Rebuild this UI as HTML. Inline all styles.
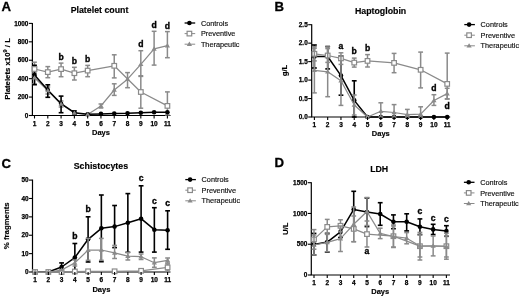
<!DOCTYPE html>
<html><head><meta charset="utf-8"><style>
html,body{margin:0;padding:0;background:#fff;}
body{width:520px;height:298px;overflow:hidden;}
svg{display:block;will-change:transform;}
text{font-family:"Liberation Sans",sans-serif;}
</style></head><body>
<svg width="520" height="298" viewBox="0 0 520 298">
<rect width="520" height="298" fill="#fff"/>
<line x1="32.40" y1="115.50" x2="32.40" y2="22.90" stroke="#000" stroke-width="1.2"/>
<line x1="31.80" y1="115.50" x2="170.50" y2="115.50" stroke="#000" stroke-width="1.2"/>
<line x1="34.50" y1="73.00" x2="34.50" y2="84.00" stroke="#8a8a8a" stroke-width="1.5"/>
<line x1="32.10" y1="73.00" x2="36.90" y2="73.00" stroke="#8a8a8a" stroke-width="1.5"/>
<line x1="32.10" y1="84.00" x2="36.90" y2="84.00" stroke="#8a8a8a" stroke-width="1.5"/>
<line x1="47.79" y1="87.00" x2="47.79" y2="94.00" stroke="#8a8a8a" stroke-width="1.5"/>
<line x1="45.39" y1="87.00" x2="50.19" y2="87.00" stroke="#8a8a8a" stroke-width="1.5"/>
<line x1="45.39" y1="94.00" x2="50.19" y2="94.00" stroke="#8a8a8a" stroke-width="1.5"/>
<line x1="61.08" y1="101.00" x2="61.08" y2="107.00" stroke="#8a8a8a" stroke-width="1.5"/>
<line x1="58.68" y1="101.00" x2="63.48" y2="101.00" stroke="#8a8a8a" stroke-width="1.5"/>
<line x1="58.68" y1="107.00" x2="63.48" y2="107.00" stroke="#8a8a8a" stroke-width="1.5"/>
<line x1="100.95" y1="104.00" x2="100.95" y2="108.00" stroke="#8a8a8a" stroke-width="1.5"/>
<line x1="98.55" y1="104.00" x2="103.35" y2="104.00" stroke="#8a8a8a" stroke-width="1.5"/>
<line x1="98.55" y1="108.00" x2="103.35" y2="108.00" stroke="#8a8a8a" stroke-width="1.5"/>
<line x1="114.24" y1="83.80" x2="114.24" y2="95.40" stroke="#8a8a8a" stroke-width="1.5"/>
<line x1="111.84" y1="83.80" x2="116.64" y2="83.80" stroke="#8a8a8a" stroke-width="1.5"/>
<line x1="111.84" y1="95.40" x2="116.64" y2="95.40" stroke="#8a8a8a" stroke-width="1.5"/>
<line x1="127.53" y1="72.60" x2="127.53" y2="87.70" stroke="#8a8a8a" stroke-width="1.5"/>
<line x1="125.13" y1="72.60" x2="129.93" y2="72.60" stroke="#8a8a8a" stroke-width="1.5"/>
<line x1="125.13" y1="87.70" x2="129.93" y2="87.70" stroke="#8a8a8a" stroke-width="1.5"/>
<line x1="140.82" y1="50.70" x2="140.82" y2="76.40" stroke="#8a8a8a" stroke-width="1.5"/>
<line x1="138.42" y1="50.70" x2="143.22" y2="50.70" stroke="#8a8a8a" stroke-width="1.5"/>
<line x1="138.42" y1="76.40" x2="143.22" y2="76.40" stroke="#8a8a8a" stroke-width="1.5"/>
<line x1="154.11" y1="31.30" x2="154.11" y2="65.10" stroke="#8a8a8a" stroke-width="1.5"/>
<line x1="151.71" y1="31.30" x2="156.51" y2="31.30" stroke="#8a8a8a" stroke-width="1.5"/>
<line x1="151.71" y1="65.10" x2="156.51" y2="65.10" stroke="#8a8a8a" stroke-width="1.5"/>
<line x1="167.40" y1="31.60" x2="167.40" y2="57.70" stroke="#8a8a8a" stroke-width="1.5"/>
<line x1="165.00" y1="31.60" x2="169.80" y2="31.60" stroke="#8a8a8a" stroke-width="1.5"/>
<line x1="165.00" y1="57.70" x2="169.80" y2="57.70" stroke="#8a8a8a" stroke-width="1.5"/>
<polyline points="34.50,77.80 47.79,90.50 61.08,104.00 74.37,113.00 87.66,114.50 100.95,105.90 114.24,90.00 127.53,79.20 140.82,64.30 154.11,48.90 167.40,45.60" fill="none" stroke="#8a8a8a" stroke-width="1.25" stroke-linejoin="round"/>
<line x1="34.50" y1="62.20" x2="34.50" y2="75.80" stroke="#8a8a8a" stroke-width="1.5"/>
<line x1="32.10" y1="62.20" x2="36.90" y2="62.20" stroke="#8a8a8a" stroke-width="1.5"/>
<line x1="32.10" y1="75.80" x2="36.90" y2="75.80" stroke="#8a8a8a" stroke-width="1.5"/>
<line x1="47.79" y1="66.60" x2="47.79" y2="77.70" stroke="#8a8a8a" stroke-width="1.5"/>
<line x1="45.39" y1="66.60" x2="50.19" y2="66.60" stroke="#8a8a8a" stroke-width="1.5"/>
<line x1="45.39" y1="77.70" x2="50.19" y2="77.70" stroke="#8a8a8a" stroke-width="1.5"/>
<line x1="61.08" y1="63.10" x2="61.08" y2="76.70" stroke="#8a8a8a" stroke-width="1.5"/>
<line x1="58.68" y1="63.10" x2="63.48" y2="63.10" stroke="#8a8a8a" stroke-width="1.5"/>
<line x1="58.68" y1="76.70" x2="63.48" y2="76.70" stroke="#8a8a8a" stroke-width="1.5"/>
<line x1="74.37" y1="67.30" x2="74.37" y2="80.00" stroke="#8a8a8a" stroke-width="1.5"/>
<line x1="71.97" y1="67.30" x2="76.77" y2="67.30" stroke="#8a8a8a" stroke-width="1.5"/>
<line x1="71.97" y1="80.00" x2="76.77" y2="80.00" stroke="#8a8a8a" stroke-width="1.5"/>
<line x1="87.66" y1="65.40" x2="87.66" y2="76.70" stroke="#8a8a8a" stroke-width="1.5"/>
<line x1="85.26" y1="65.40" x2="90.06" y2="65.40" stroke="#8a8a8a" stroke-width="1.5"/>
<line x1="85.26" y1="76.70" x2="90.06" y2="76.70" stroke="#8a8a8a" stroke-width="1.5"/>
<line x1="114.24" y1="54.80" x2="114.24" y2="77.90" stroke="#8a8a8a" stroke-width="1.5"/>
<line x1="111.84" y1="54.80" x2="116.64" y2="54.80" stroke="#8a8a8a" stroke-width="1.5"/>
<line x1="111.84" y1="77.90" x2="116.64" y2="77.90" stroke="#8a8a8a" stroke-width="1.5"/>
<line x1="140.82" y1="75.80" x2="140.82" y2="108.20" stroke="#8a8a8a" stroke-width="1.5"/>
<line x1="138.42" y1="75.80" x2="143.22" y2="75.80" stroke="#8a8a8a" stroke-width="1.5"/>
<line x1="138.42" y1="108.20" x2="143.22" y2="108.20" stroke="#8a8a8a" stroke-width="1.5"/>
<line x1="167.40" y1="91.90" x2="167.40" y2="115.00" stroke="#8a8a8a" stroke-width="1.5"/>
<line x1="165.00" y1="91.90" x2="169.80" y2="91.90" stroke="#8a8a8a" stroke-width="1.5"/>
<line x1="165.00" y1="115.00" x2="169.80" y2="115.00" stroke="#8a8a8a" stroke-width="1.5"/>
<polyline points="34.50,69.00 47.79,72.10 61.08,69.10 74.37,73.20 87.66,70.60 114.24,65.80 140.82,92.00 167.40,105.90" fill="none" stroke="#8a8a8a" stroke-width="1.25" stroke-linejoin="round"/>
<line x1="34.50" y1="65.30" x2="34.50" y2="84.70" stroke="#000" stroke-width="1.6"/>
<line x1="32.10" y1="65.30" x2="36.90" y2="65.30" stroke="#000" stroke-width="1.6"/>
<line x1="32.10" y1="84.70" x2="36.90" y2="84.70" stroke="#000" stroke-width="1.6"/>
<line x1="47.79" y1="84.80" x2="47.79" y2="97.30" stroke="#000" stroke-width="1.6"/>
<line x1="45.39" y1="84.80" x2="50.19" y2="84.80" stroke="#000" stroke-width="1.6"/>
<line x1="45.39" y1="97.30" x2="50.19" y2="97.30" stroke="#000" stroke-width="1.6"/>
<line x1="61.08" y1="96.10" x2="61.08" y2="112.70" stroke="#000" stroke-width="1.6"/>
<line x1="58.68" y1="96.10" x2="63.48" y2="96.10" stroke="#000" stroke-width="1.6"/>
<line x1="58.68" y1="112.70" x2="63.48" y2="112.70" stroke="#000" stroke-width="1.6"/>
<line x1="74.37" y1="110.90" x2="74.37" y2="114.50" stroke="#000" stroke-width="1.6"/>
<line x1="71.97" y1="110.90" x2="76.77" y2="110.90" stroke="#000" stroke-width="1.6"/>
<line x1="71.97" y1="114.50" x2="76.77" y2="114.50" stroke="#000" stroke-width="1.6"/>
<polyline points="34.50,75.00 47.79,90.00 61.08,103.70 74.37,112.70 87.66,114.20 100.95,113.90 114.24,113.50 127.53,113.30 140.82,112.70 154.11,112.30 167.40,112.30" fill="none" stroke="#000" stroke-width="1.5" stroke-linejoin="round"/>
<circle cx="34.50" cy="75.00" r="2.3" fill="#000"/>
<circle cx="47.79" cy="90.00" r="2.3" fill="#000"/>
<circle cx="61.08" cy="103.70" r="2.3" fill="#000"/>
<circle cx="74.37" cy="112.70" r="2.3" fill="#000"/>
<circle cx="87.66" cy="114.20" r="2.3" fill="#000"/>
<circle cx="100.95" cy="113.90" r="2.3" fill="#000"/>
<circle cx="114.24" cy="113.50" r="2.3" fill="#000"/>
<circle cx="127.53" cy="113.30" r="2.3" fill="#000"/>
<circle cx="140.82" cy="112.70" r="2.3" fill="#000"/>
<circle cx="154.11" cy="112.30" r="2.3" fill="#000"/>
<circle cx="167.40" cy="112.30" r="2.3" fill="#000"/>
<rect x="32.20" y="66.70" width="4.6" height="4.6" fill="#fff" stroke="#8a8a8a" stroke-width="1.2"/>
<rect x="45.49" y="69.80" width="4.6" height="4.6" fill="#fff" stroke="#8a8a8a" stroke-width="1.2"/>
<rect x="58.78" y="66.80" width="4.6" height="4.6" fill="#fff" stroke="#8a8a8a" stroke-width="1.2"/>
<rect x="72.07" y="70.90" width="4.6" height="4.6" fill="#fff" stroke="#8a8a8a" stroke-width="1.2"/>
<rect x="85.36" y="68.30" width="4.6" height="4.6" fill="#fff" stroke="#8a8a8a" stroke-width="1.2"/>
<rect x="111.94" y="63.50" width="4.6" height="4.6" fill="#fff" stroke="#8a8a8a" stroke-width="1.2"/>
<rect x="138.52" y="89.70" width="4.6" height="4.6" fill="#fff" stroke="#8a8a8a" stroke-width="1.2"/>
<rect x="165.10" y="103.60" width="4.6" height="4.6" fill="#fff" stroke="#8a8a8a" stroke-width="1.2"/>
<polygon points="34.50,75.20 37.10,79.60 31.90,79.60" fill="#8a8a8a"/>
<polygon points="47.79,87.90 50.39,92.30 45.19,92.30" fill="#8a8a8a"/>
<polygon points="61.08,101.40 63.68,105.80 58.48,105.80" fill="#8a8a8a"/>
<polygon points="74.37,110.40 76.97,114.80 71.77,114.80" fill="#8a8a8a"/>
<polygon points="87.66,111.90 90.26,116.30 85.06,116.30" fill="#8a8a8a"/>
<polygon points="100.95,103.30 103.55,107.70 98.35,107.70" fill="#8a8a8a"/>
<polygon points="114.24,87.40 116.84,91.80 111.64,91.80" fill="#8a8a8a"/>
<polygon points="127.53,76.60 130.13,81.00 124.93,81.00" fill="#8a8a8a"/>
<polygon points="140.82,61.70 143.42,66.10 138.22,66.10" fill="#8a8a8a"/>
<polygon points="154.11,46.30 156.71,50.70 151.51,50.70" fill="#8a8a8a"/>
<polygon points="167.40,43.00 170.00,47.40 164.80,47.40" fill="#8a8a8a"/>
<line x1="28.90" y1="115.50" x2="32.40" y2="115.50" stroke="#000" stroke-width="1.1"/>
<text x="28.40" y="117.70" font-size="6.4" font-weight="bold" text-anchor="end" fill="#000" stroke="#000" stroke-width="0.25">0</text>
<line x1="28.90" y1="97.08" x2="32.40" y2="97.08" stroke="#000" stroke-width="1.1"/>
<text x="28.40" y="99.28" font-size="6.4" font-weight="bold" text-anchor="end" fill="#000" stroke="#000" stroke-width="0.25">200</text>
<line x1="28.90" y1="78.66" x2="32.40" y2="78.66" stroke="#000" stroke-width="1.1"/>
<text x="28.40" y="80.86" font-size="6.4" font-weight="bold" text-anchor="end" fill="#000" stroke="#000" stroke-width="0.25">400</text>
<line x1="28.90" y1="60.24" x2="32.40" y2="60.24" stroke="#000" stroke-width="1.1"/>
<text x="28.40" y="62.44" font-size="6.4" font-weight="bold" text-anchor="end" fill="#000" stroke="#000" stroke-width="0.25">600</text>
<line x1="28.90" y1="41.82" x2="32.40" y2="41.82" stroke="#000" stroke-width="1.1"/>
<text x="28.40" y="44.02" font-size="6.4" font-weight="bold" text-anchor="end" fill="#000" stroke="#000" stroke-width="0.25">800</text>
<line x1="28.90" y1="23.40" x2="32.40" y2="23.40" stroke="#000" stroke-width="1.1"/>
<text x="28.40" y="25.60" font-size="6.4" font-weight="bold" text-anchor="end" fill="#000" stroke="#000" stroke-width="0.25">1000</text>
<line x1="34.50" y1="115.50" x2="34.50" y2="118.50" stroke="#000" stroke-width="1.1"/>
<text x="34.50" y="125.80" font-size="6.5" font-weight="bold" text-anchor="middle" fill="#000" stroke="#000" stroke-width="0.25">1</text>
<line x1="47.79" y1="115.50" x2="47.79" y2="118.50" stroke="#000" stroke-width="1.1"/>
<text x="47.79" y="125.80" font-size="6.5" font-weight="bold" text-anchor="middle" fill="#000" stroke="#000" stroke-width="0.25">2</text>
<line x1="61.08" y1="115.50" x2="61.08" y2="118.50" stroke="#000" stroke-width="1.1"/>
<text x="61.08" y="125.80" font-size="6.5" font-weight="bold" text-anchor="middle" fill="#000" stroke="#000" stroke-width="0.25">3</text>
<line x1="74.37" y1="115.50" x2="74.37" y2="118.50" stroke="#000" stroke-width="1.1"/>
<text x="74.37" y="125.80" font-size="6.5" font-weight="bold" text-anchor="middle" fill="#000" stroke="#000" stroke-width="0.25">4</text>
<line x1="87.66" y1="115.50" x2="87.66" y2="118.50" stroke="#000" stroke-width="1.1"/>
<text x="87.66" y="125.80" font-size="6.5" font-weight="bold" text-anchor="middle" fill="#000" stroke="#000" stroke-width="0.25">5</text>
<line x1="100.95" y1="115.50" x2="100.95" y2="118.50" stroke="#000" stroke-width="1.1"/>
<text x="100.95" y="125.80" font-size="6.5" font-weight="bold" text-anchor="middle" fill="#000" stroke="#000" stroke-width="0.25">6</text>
<line x1="114.24" y1="115.50" x2="114.24" y2="118.50" stroke="#000" stroke-width="1.1"/>
<text x="114.24" y="125.80" font-size="6.5" font-weight="bold" text-anchor="middle" fill="#000" stroke="#000" stroke-width="0.25">7</text>
<line x1="127.53" y1="115.50" x2="127.53" y2="118.50" stroke="#000" stroke-width="1.1"/>
<text x="127.53" y="125.80" font-size="6.5" font-weight="bold" text-anchor="middle" fill="#000" stroke="#000" stroke-width="0.25">8</text>
<line x1="140.82" y1="115.50" x2="140.82" y2="118.50" stroke="#000" stroke-width="1.1"/>
<text x="140.82" y="125.80" font-size="6.5" font-weight="bold" text-anchor="middle" fill="#000" stroke="#000" stroke-width="0.25">9</text>
<line x1="154.11" y1="115.50" x2="154.11" y2="118.50" stroke="#000" stroke-width="1.1"/>
<text x="154.11" y="125.80" font-size="6.5" font-weight="bold" text-anchor="middle" fill="#000" stroke="#000" stroke-width="0.25">10</text>
<line x1="167.40" y1="115.50" x2="167.40" y2="118.50" stroke="#000" stroke-width="1.1"/>
<text x="167.40" y="125.80" font-size="6.5" font-weight="bold" text-anchor="middle" fill="#000" stroke="#000" stroke-width="0.25">11</text>
<text x="100.95" y="135.00" font-size="7.5" font-weight="bold" text-anchor="middle" fill="#000" stroke="#000" stroke-width="0.15">Days</text>
<text x="61.08" y="60.10" font-size="8.6" font-weight="bold" text-anchor="middle" fill="#000" stroke="#000" stroke-width="0.35">b</text>
<text x="74.37" y="63.80" font-size="8.6" font-weight="bold" text-anchor="middle" fill="#000" stroke="#000" stroke-width="0.35">b</text>
<text x="87.66" y="61.90" font-size="8.6" font-weight="bold" text-anchor="middle" fill="#000" stroke="#000" stroke-width="0.35">b</text>
<text x="140.82" y="47.40" font-size="8.6" font-weight="bold" text-anchor="middle" fill="#000" stroke="#000" stroke-width="0.35">d</text>
<text x="154.11" y="27.80" font-size="8.6" font-weight="bold" text-anchor="middle" fill="#000" stroke="#000" stroke-width="0.35">d</text>
<text x="167.40" y="28.60" font-size="8.6" font-weight="bold" text-anchor="middle" fill="#000" stroke="#000" stroke-width="0.35">d</text>
<text x="99.50" y="13.10" font-size="8.8" font-weight="bold" text-anchor="middle" fill="#000" stroke="#000" stroke-width="0.15">Platelet count</text>
<text x="1.50" y="10.80" font-size="13.2" font-weight="bold" text-anchor="start" fill="#000" stroke="#000" stroke-width="0.3">A</text>
<text transform="translate(10.00,68.90) rotate(-90)" font-size="7.8" font-weight="bold" text-anchor="middle" fill="#000" stroke="#000" stroke-width="0.15">Platelets x10<tspan font-size="5.6" dy="-3.2">9</tspan><tspan dy="3.2"> / L</tspan></text>
<line x1="184.60" y1="23.00" x2="195.20" y2="23.00" stroke="#000" stroke-width="1.3"/>
<circle cx="189.40" cy="23.00" r="2.3" fill="#000"/>
<text x="200.90" y="25.60" font-size="7.3" font-weight="normal" text-anchor="start" fill="#111" stroke="#111" stroke-width="0.15">Controls</text>
<line x1="184.60" y1="33.60" x2="195.20" y2="33.60" stroke="#8a8a8a" stroke-width="1.0"/>
<rect x="187.10" y="31.30" width="4.6" height="4.6" fill="#fff" stroke="#8a8a8a" stroke-width="1.2"/>
<text x="200.90" y="36.20" font-size="7.3" font-weight="normal" text-anchor="start" fill="#111" stroke="#111" stroke-width="0.15">Preventive</text>
<line x1="184.60" y1="44.20" x2="195.20" y2="44.20" stroke="#8a8a8a" stroke-width="1.0"/>
<polygon points="189.40,41.60 192.00,46.00 186.80,46.00" fill="#8a8a8a"/>
<text x="200.90" y="46.80" font-size="7.3" font-weight="normal" text-anchor="start" fill="#111" stroke="#111" stroke-width="0.15">Therapeutic</text>
<line x1="311.70" y1="117.00" x2="311.70" y2="24.20" stroke="#000" stroke-width="1.2"/>
<line x1="311.10" y1="117.00" x2="450.20" y2="117.00" stroke="#000" stroke-width="1.2"/>
<line x1="314.40" y1="45.00" x2="314.40" y2="68.00" stroke="#000" stroke-width="1.6"/>
<line x1="312.00" y1="45.00" x2="316.80" y2="45.00" stroke="#000" stroke-width="1.6"/>
<line x1="312.00" y1="68.00" x2="316.80" y2="68.00" stroke="#000" stroke-width="1.6"/>
<line x1="327.68" y1="46.50" x2="327.68" y2="68.90" stroke="#000" stroke-width="1.6"/>
<line x1="325.28" y1="46.50" x2="330.08" y2="46.50" stroke="#000" stroke-width="1.6"/>
<line x1="325.28" y1="68.90" x2="330.08" y2="68.90" stroke="#000" stroke-width="1.6"/>
<line x1="340.96" y1="56.00" x2="340.96" y2="95.20" stroke="#000" stroke-width="1.6"/>
<line x1="338.56" y1="56.00" x2="343.36" y2="56.00" stroke="#000" stroke-width="1.6"/>
<line x1="338.56" y1="95.20" x2="343.36" y2="95.20" stroke="#000" stroke-width="1.6"/>
<line x1="354.24" y1="80.80" x2="354.24" y2="117.00" stroke="#000" stroke-width="1.6"/>
<line x1="351.84" y1="80.80" x2="356.64" y2="80.80" stroke="#000" stroke-width="1.6"/>
<line x1="351.84" y1="117.00" x2="356.64" y2="117.00" stroke="#000" stroke-width="1.6"/>
<polyline points="314.40,56.50 327.68,56.50 340.96,75.60 354.24,100.40 367.52,117.00 380.80,117.00 394.08,117.00 407.36,117.00 420.64,117.00 433.92,117.00 447.20,117.00" fill="none" stroke="#000" stroke-width="1.5" stroke-linejoin="round"/>
<circle cx="314.40" cy="56.50" r="2.3" fill="#000"/>
<circle cx="327.68" cy="56.50" r="2.3" fill="#000"/>
<circle cx="340.96" cy="75.60" r="2.3" fill="#000"/>
<circle cx="354.24" cy="100.40" r="2.3" fill="#000"/>
<circle cx="367.52" cy="117.00" r="2.3" fill="#000"/>
<circle cx="380.80" cy="117.00" r="2.3" fill="#000"/>
<circle cx="394.08" cy="117.00" r="2.3" fill="#000"/>
<circle cx="407.36" cy="117.00" r="2.3" fill="#000"/>
<circle cx="420.64" cy="117.00" r="2.3" fill="#000"/>
<circle cx="433.92" cy="117.00" r="2.3" fill="#000"/>
<circle cx="447.20" cy="117.00" r="2.3" fill="#000"/>
<line x1="314.40" y1="46.70" x2="314.40" y2="60.90" stroke="#8a8a8a" stroke-width="1.5"/>
<line x1="312.00" y1="46.70" x2="316.80" y2="46.70" stroke="#8a8a8a" stroke-width="1.5"/>
<line x1="312.00" y1="60.90" x2="316.80" y2="60.90" stroke="#8a8a8a" stroke-width="1.5"/>
<line x1="327.68" y1="48.60" x2="327.68" y2="62.40" stroke="#8a8a8a" stroke-width="1.5"/>
<line x1="325.28" y1="48.60" x2="330.08" y2="48.60" stroke="#8a8a8a" stroke-width="1.5"/>
<line x1="325.28" y1="62.40" x2="330.08" y2="62.40" stroke="#8a8a8a" stroke-width="1.5"/>
<line x1="340.96" y1="52.80" x2="340.96" y2="64.40" stroke="#8a8a8a" stroke-width="1.5"/>
<line x1="338.56" y1="52.80" x2="343.36" y2="52.80" stroke="#8a8a8a" stroke-width="1.5"/>
<line x1="338.56" y1="64.40" x2="343.36" y2="64.40" stroke="#8a8a8a" stroke-width="1.5"/>
<line x1="354.24" y1="58.10" x2="354.24" y2="67.10" stroke="#8a8a8a" stroke-width="1.5"/>
<line x1="351.84" y1="58.10" x2="356.64" y2="58.10" stroke="#8a8a8a" stroke-width="1.5"/>
<line x1="351.84" y1="67.10" x2="356.64" y2="67.10" stroke="#8a8a8a" stroke-width="1.5"/>
<line x1="367.52" y1="54.60" x2="367.52" y2="67.00" stroke="#8a8a8a" stroke-width="1.5"/>
<line x1="365.12" y1="54.60" x2="369.92" y2="54.60" stroke="#8a8a8a" stroke-width="1.5"/>
<line x1="365.12" y1="67.00" x2="369.92" y2="67.00" stroke="#8a8a8a" stroke-width="1.5"/>
<line x1="394.08" y1="53.40" x2="394.08" y2="72.70" stroke="#8a8a8a" stroke-width="1.5"/>
<line x1="391.68" y1="53.40" x2="396.48" y2="53.40" stroke="#8a8a8a" stroke-width="1.5"/>
<line x1="391.68" y1="72.70" x2="396.48" y2="72.70" stroke="#8a8a8a" stroke-width="1.5"/>
<line x1="420.64" y1="52.10" x2="420.64" y2="87.90" stroke="#8a8a8a" stroke-width="1.5"/>
<line x1="418.24" y1="52.10" x2="423.04" y2="52.10" stroke="#8a8a8a" stroke-width="1.5"/>
<line x1="418.24" y1="87.90" x2="423.04" y2="87.90" stroke="#8a8a8a" stroke-width="1.5"/>
<line x1="447.20" y1="53.10" x2="447.20" y2="99.00" stroke="#8a8a8a" stroke-width="1.5"/>
<line x1="444.80" y1="53.10" x2="449.60" y2="53.10" stroke="#8a8a8a" stroke-width="1.5"/>
<line x1="444.80" y1="99.00" x2="449.60" y2="99.00" stroke="#8a8a8a" stroke-width="1.5"/>
<polyline points="314.40,53.80 327.68,55.50 340.96,58.40 354.24,62.60 367.52,60.90 394.08,62.90 420.64,69.80 447.20,83.90" fill="none" stroke="#8a8a8a" stroke-width="1.25" stroke-linejoin="round"/>
<rect x="312.10" y="51.50" width="4.6" height="4.6" fill="#fff" stroke="#8a8a8a" stroke-width="1.2"/>
<rect x="325.38" y="53.20" width="4.6" height="4.6" fill="#fff" stroke="#8a8a8a" stroke-width="1.2"/>
<rect x="338.66" y="56.10" width="4.6" height="4.6" fill="#fff" stroke="#8a8a8a" stroke-width="1.2"/>
<rect x="351.94" y="60.30" width="4.6" height="4.6" fill="#fff" stroke="#8a8a8a" stroke-width="1.2"/>
<rect x="365.22" y="58.60" width="4.6" height="4.6" fill="#fff" stroke="#8a8a8a" stroke-width="1.2"/>
<rect x="391.78" y="60.60" width="4.6" height="4.6" fill="#fff" stroke="#8a8a8a" stroke-width="1.2"/>
<rect x="418.34" y="67.50" width="4.6" height="4.6" fill="#fff" stroke="#8a8a8a" stroke-width="1.2"/>
<rect x="444.90" y="81.60" width="4.6" height="4.6" fill="#fff" stroke="#8a8a8a" stroke-width="1.2"/>
<line x1="314.40" y1="48.20" x2="314.40" y2="92.90" stroke="#8a8a8a" stroke-width="1.5"/>
<line x1="312.00" y1="48.20" x2="316.80" y2="48.20" stroke="#8a8a8a" stroke-width="1.5"/>
<line x1="312.00" y1="92.90" x2="316.80" y2="92.90" stroke="#8a8a8a" stroke-width="1.5"/>
<line x1="327.68" y1="46.90" x2="327.68" y2="96.70" stroke="#8a8a8a" stroke-width="1.5"/>
<line x1="325.28" y1="46.90" x2="330.08" y2="46.90" stroke="#8a8a8a" stroke-width="1.5"/>
<line x1="325.28" y1="96.70" x2="330.08" y2="96.70" stroke="#8a8a8a" stroke-width="1.5"/>
<line x1="340.96" y1="56.20" x2="340.96" y2="105.40" stroke="#8a8a8a" stroke-width="1.5"/>
<line x1="338.56" y1="56.20" x2="343.36" y2="56.20" stroke="#8a8a8a" stroke-width="1.5"/>
<line x1="338.56" y1="105.40" x2="343.36" y2="105.40" stroke="#8a8a8a" stroke-width="1.5"/>
<line x1="354.24" y1="95.00" x2="354.24" y2="115.00" stroke="#8a8a8a" stroke-width="1.5"/>
<line x1="351.84" y1="95.00" x2="356.64" y2="95.00" stroke="#8a8a8a" stroke-width="1.5"/>
<line x1="351.84" y1="115.00" x2="356.64" y2="115.00" stroke="#8a8a8a" stroke-width="1.5"/>
<line x1="380.80" y1="102.80" x2="380.80" y2="117.00" stroke="#8a8a8a" stroke-width="1.5"/>
<line x1="378.40" y1="102.80" x2="383.20" y2="102.80" stroke="#8a8a8a" stroke-width="1.5"/>
<line x1="378.40" y1="117.00" x2="383.20" y2="117.00" stroke="#8a8a8a" stroke-width="1.5"/>
<line x1="394.08" y1="104.60" x2="394.08" y2="117.00" stroke="#8a8a8a" stroke-width="1.5"/>
<line x1="391.68" y1="104.60" x2="396.48" y2="104.60" stroke="#8a8a8a" stroke-width="1.5"/>
<line x1="391.68" y1="117.00" x2="396.48" y2="117.00" stroke="#8a8a8a" stroke-width="1.5"/>
<line x1="407.36" y1="109.40" x2="407.36" y2="117.00" stroke="#8a8a8a" stroke-width="1.5"/>
<line x1="404.96" y1="109.40" x2="409.76" y2="109.40" stroke="#8a8a8a" stroke-width="1.5"/>
<line x1="404.96" y1="117.00" x2="409.76" y2="117.00" stroke="#8a8a8a" stroke-width="1.5"/>
<line x1="420.64" y1="106.80" x2="420.64" y2="117.00" stroke="#8a8a8a" stroke-width="1.5"/>
<line x1="418.24" y1="106.80" x2="423.04" y2="106.80" stroke="#8a8a8a" stroke-width="1.5"/>
<line x1="418.24" y1="117.00" x2="423.04" y2="117.00" stroke="#8a8a8a" stroke-width="1.5"/>
<line x1="433.92" y1="94.70" x2="433.92" y2="105.40" stroke="#8a8a8a" stroke-width="1.5"/>
<line x1="431.52" y1="94.70" x2="436.32" y2="94.70" stroke="#8a8a8a" stroke-width="1.5"/>
<line x1="431.52" y1="105.40" x2="436.32" y2="105.40" stroke="#8a8a8a" stroke-width="1.5"/>
<line x1="447.20" y1="88.30" x2="447.20" y2="98.90" stroke="#8a8a8a" stroke-width="1.5"/>
<line x1="444.80" y1="88.30" x2="449.60" y2="88.30" stroke="#8a8a8a" stroke-width="1.5"/>
<line x1="444.80" y1="98.90" x2="449.60" y2="98.90" stroke="#8a8a8a" stroke-width="1.5"/>
<polyline points="314.40,70.30 327.68,71.80 340.96,80.80 354.24,105.00 367.52,117.00 380.80,111.30 394.08,112.50 407.36,114.60 420.64,114.10 433.92,100.50 447.20,93.60" fill="none" stroke="#8a8a8a" stroke-width="1.25" stroke-linejoin="round"/>
<polygon points="314.40,67.70 317.00,72.10 311.80,72.10" fill="#8a8a8a"/>
<polygon points="327.68,69.20 330.28,73.60 325.08,73.60" fill="#8a8a8a"/>
<polygon points="340.96,78.20 343.56,82.60 338.36,82.60" fill="#8a8a8a"/>
<polygon points="354.24,102.40 356.84,106.80 351.64,106.80" fill="#8a8a8a"/>
<polygon points="367.52,114.40 370.12,118.80 364.92,118.80" fill="#8a8a8a"/>
<polygon points="380.80,108.70 383.40,113.10 378.20,113.10" fill="#8a8a8a"/>
<polygon points="394.08,109.90 396.68,114.30 391.48,114.30" fill="#8a8a8a"/>
<polygon points="407.36,112.00 409.96,116.40 404.76,116.40" fill="#8a8a8a"/>
<polygon points="420.64,111.50 423.24,115.90 418.04,115.90" fill="#8a8a8a"/>
<polygon points="433.92,97.90 436.52,102.30 431.32,102.30" fill="#8a8a8a"/>
<polygon points="447.20,91.00 449.80,95.40 444.60,95.40" fill="#8a8a8a"/>
<line x1="308.20" y1="117.00" x2="311.70" y2="117.00" stroke="#000" stroke-width="1.1"/>
<text x="307.70" y="119.20" font-size="6.4" font-weight="bold" text-anchor="end" fill="#000" stroke="#000" stroke-width="0.25">0.0</text>
<line x1="308.20" y1="98.54" x2="311.70" y2="98.54" stroke="#000" stroke-width="1.1"/>
<text x="307.70" y="100.74" font-size="6.4" font-weight="bold" text-anchor="end" fill="#000" stroke="#000" stroke-width="0.25">0.5</text>
<line x1="308.20" y1="80.08" x2="311.70" y2="80.08" stroke="#000" stroke-width="1.1"/>
<text x="307.70" y="82.28" font-size="6.4" font-weight="bold" text-anchor="end" fill="#000" stroke="#000" stroke-width="0.25">1.0</text>
<line x1="308.20" y1="61.62" x2="311.70" y2="61.62" stroke="#000" stroke-width="1.1"/>
<text x="307.70" y="63.82" font-size="6.4" font-weight="bold" text-anchor="end" fill="#000" stroke="#000" stroke-width="0.25">1.5</text>
<line x1="308.20" y1="43.16" x2="311.70" y2="43.16" stroke="#000" stroke-width="1.1"/>
<text x="307.70" y="45.36" font-size="6.4" font-weight="bold" text-anchor="end" fill="#000" stroke="#000" stroke-width="0.25">2.0</text>
<line x1="308.20" y1="24.70" x2="311.70" y2="24.70" stroke="#000" stroke-width="1.1"/>
<text x="307.70" y="26.90" font-size="6.4" font-weight="bold" text-anchor="end" fill="#000" stroke="#000" stroke-width="0.25">2.5</text>
<line x1="314.40" y1="117.00" x2="314.40" y2="120.00" stroke="#000" stroke-width="1.1"/>
<text x="314.40" y="127.00" font-size="6.5" font-weight="bold" text-anchor="middle" fill="#000" stroke="#000" stroke-width="0.25">1</text>
<line x1="327.68" y1="117.00" x2="327.68" y2="120.00" stroke="#000" stroke-width="1.1"/>
<text x="327.68" y="127.00" font-size="6.5" font-weight="bold" text-anchor="middle" fill="#000" stroke="#000" stroke-width="0.25">2</text>
<line x1="340.96" y1="117.00" x2="340.96" y2="120.00" stroke="#000" stroke-width="1.1"/>
<text x="340.96" y="127.00" font-size="6.5" font-weight="bold" text-anchor="middle" fill="#000" stroke="#000" stroke-width="0.25">3</text>
<line x1="354.24" y1="117.00" x2="354.24" y2="120.00" stroke="#000" stroke-width="1.1"/>
<text x="354.24" y="127.00" font-size="6.5" font-weight="bold" text-anchor="middle" fill="#000" stroke="#000" stroke-width="0.25">4</text>
<line x1="367.52" y1="117.00" x2="367.52" y2="120.00" stroke="#000" stroke-width="1.1"/>
<text x="367.52" y="127.00" font-size="6.5" font-weight="bold" text-anchor="middle" fill="#000" stroke="#000" stroke-width="0.25">5</text>
<line x1="380.80" y1="117.00" x2="380.80" y2="120.00" stroke="#000" stroke-width="1.1"/>
<text x="380.80" y="127.00" font-size="6.5" font-weight="bold" text-anchor="middle" fill="#000" stroke="#000" stroke-width="0.25">6</text>
<line x1="394.08" y1="117.00" x2="394.08" y2="120.00" stroke="#000" stroke-width="1.1"/>
<text x="394.08" y="127.00" font-size="6.5" font-weight="bold" text-anchor="middle" fill="#000" stroke="#000" stroke-width="0.25">7</text>
<line x1="407.36" y1="117.00" x2="407.36" y2="120.00" stroke="#000" stroke-width="1.1"/>
<text x="407.36" y="127.00" font-size="6.5" font-weight="bold" text-anchor="middle" fill="#000" stroke="#000" stroke-width="0.25">8</text>
<line x1="420.64" y1="117.00" x2="420.64" y2="120.00" stroke="#000" stroke-width="1.1"/>
<text x="420.64" y="127.00" font-size="6.5" font-weight="bold" text-anchor="middle" fill="#000" stroke="#000" stroke-width="0.25">9</text>
<line x1="433.92" y1="117.00" x2="433.92" y2="120.00" stroke="#000" stroke-width="1.1"/>
<text x="433.92" y="127.00" font-size="6.5" font-weight="bold" text-anchor="middle" fill="#000" stroke="#000" stroke-width="0.25">10</text>
<line x1="447.20" y1="117.00" x2="447.20" y2="120.00" stroke="#000" stroke-width="1.1"/>
<text x="447.20" y="127.00" font-size="6.5" font-weight="bold" text-anchor="middle" fill="#000" stroke="#000" stroke-width="0.25">11</text>
<text x="380.80" y="136.30" font-size="7.5" font-weight="bold" text-anchor="middle" fill="#000" stroke="#000" stroke-width="0.15">Days</text>
<text x="340.96" y="48.90" font-size="8.6" font-weight="bold" text-anchor="middle" fill="#000" stroke="#000" stroke-width="0.35">a</text>
<text x="354.24" y="54.30" font-size="8.6" font-weight="bold" text-anchor="middle" fill="#000" stroke="#000" stroke-width="0.35">b</text>
<text x="367.52" y="51.30" font-size="8.6" font-weight="bold" text-anchor="middle" fill="#000" stroke="#000" stroke-width="0.35">b</text>
<text x="433.92" y="91.20" font-size="8.6" font-weight="bold" text-anchor="middle" fill="#000" stroke="#000" stroke-width="0.35">d</text>
<text x="447.20" y="109.20" font-size="8.6" font-weight="bold" text-anchor="middle" fill="#000" stroke="#000" stroke-width="0.35">d</text>
<text x="380.60" y="13.70" font-size="8.8" font-weight="bold" text-anchor="middle" fill="#000" stroke="#000" stroke-width="0.15">Haptoglobin</text>
<text x="274.50" y="11.00" font-size="13.2" font-weight="bold" text-anchor="start" fill="#000" stroke="#000" stroke-width="0.3">B</text>
<text transform="translate(287.30,70.50) rotate(-90)" font-size="7.8" font-weight="bold" text-anchor="middle" fill="#000" stroke="#000" stroke-width="0.15">g/L</text>
<line x1="464.30" y1="24.60" x2="474.90" y2="24.60" stroke="#000" stroke-width="1.3"/>
<circle cx="469.10" cy="24.60" r="2.3" fill="#000"/>
<text x="480.60" y="27.20" font-size="7.3" font-weight="normal" text-anchor="start" fill="#111" stroke="#111" stroke-width="0.15">Controls</text>
<line x1="464.30" y1="35.20" x2="474.90" y2="35.20" stroke="#8a8a8a" stroke-width="1.0"/>
<rect x="466.80" y="32.90" width="4.6" height="4.6" fill="#fff" stroke="#8a8a8a" stroke-width="1.2"/>
<text x="480.60" y="37.80" font-size="7.3" font-weight="normal" text-anchor="start" fill="#111" stroke="#111" stroke-width="0.15">Preventive</text>
<line x1="464.30" y1="45.80" x2="474.90" y2="45.80" stroke="#8a8a8a" stroke-width="1.0"/>
<polygon points="469.10,43.20 471.70,47.60 466.50,47.60" fill="#8a8a8a"/>
<text x="480.60" y="48.40" font-size="7.3" font-weight="normal" text-anchor="start" fill="#111" stroke="#111" stroke-width="0.15">Therapeutic</text>
<line x1="32.50" y1="272.00" x2="32.50" y2="179.60" stroke="#000" stroke-width="1.2"/>
<line x1="31.90" y1="272.00" x2="170.50" y2="272.00" stroke="#000" stroke-width="1.2"/>
<line x1="61.60" y1="262.90" x2="61.60" y2="271.00" stroke="#000" stroke-width="1.6"/>
<line x1="59.20" y1="262.90" x2="64.00" y2="262.90" stroke="#000" stroke-width="1.6"/>
<line x1="59.20" y1="271.00" x2="64.00" y2="271.00" stroke="#000" stroke-width="1.6"/>
<line x1="74.85" y1="243.50" x2="74.85" y2="271.70" stroke="#000" stroke-width="1.6"/>
<line x1="72.45" y1="243.50" x2="77.25" y2="243.50" stroke="#000" stroke-width="1.6"/>
<line x1="72.45" y1="271.70" x2="77.25" y2="271.70" stroke="#000" stroke-width="1.6"/>
<line x1="88.10" y1="216.80" x2="88.10" y2="262.00" stroke="#000" stroke-width="1.6"/>
<line x1="85.70" y1="216.80" x2="90.50" y2="216.80" stroke="#000" stroke-width="1.6"/>
<line x1="85.70" y1="262.00" x2="90.50" y2="262.00" stroke="#000" stroke-width="1.6"/>
<line x1="101.35" y1="195.00" x2="101.35" y2="261.70" stroke="#000" stroke-width="1.6"/>
<line x1="98.95" y1="195.00" x2="103.75" y2="195.00" stroke="#000" stroke-width="1.6"/>
<line x1="98.95" y1="261.70" x2="103.75" y2="261.70" stroke="#000" stroke-width="1.6"/>
<line x1="114.60" y1="205.50" x2="114.60" y2="247.60" stroke="#000" stroke-width="1.6"/>
<line x1="112.20" y1="205.50" x2="117.00" y2="205.50" stroke="#000" stroke-width="1.6"/>
<line x1="112.20" y1="247.60" x2="117.00" y2="247.60" stroke="#000" stroke-width="1.6"/>
<line x1="127.85" y1="193.60" x2="127.85" y2="252.30" stroke="#000" stroke-width="1.6"/>
<line x1="125.45" y1="193.60" x2="130.25" y2="193.60" stroke="#000" stroke-width="1.6"/>
<line x1="125.45" y1="252.30" x2="130.25" y2="252.30" stroke="#000" stroke-width="1.6"/>
<line x1="141.10" y1="185.80" x2="141.10" y2="252.10" stroke="#000" stroke-width="1.6"/>
<line x1="138.70" y1="185.80" x2="143.50" y2="185.80" stroke="#000" stroke-width="1.6"/>
<line x1="138.70" y1="252.10" x2="143.50" y2="252.10" stroke="#000" stroke-width="1.6"/>
<line x1="154.35" y1="207.70" x2="154.35" y2="252.10" stroke="#000" stroke-width="1.6"/>
<line x1="151.95" y1="207.70" x2="156.75" y2="207.70" stroke="#000" stroke-width="1.6"/>
<line x1="151.95" y1="252.10" x2="156.75" y2="252.10" stroke="#000" stroke-width="1.6"/>
<line x1="167.60" y1="210.80" x2="167.60" y2="249.30" stroke="#000" stroke-width="1.6"/>
<line x1="165.20" y1="210.80" x2="170.00" y2="210.80" stroke="#000" stroke-width="1.6"/>
<line x1="165.20" y1="249.30" x2="170.00" y2="249.30" stroke="#000" stroke-width="1.6"/>
<polyline points="35.10,272.00 48.35,272.00 61.60,267.00 74.85,257.60 88.10,239.30 101.35,228.30 114.60,226.60 127.85,222.80 141.10,218.70 154.35,229.70 167.60,230.20" fill="none" stroke="#000" stroke-width="1.5" stroke-linejoin="round"/>
<circle cx="35.10" cy="272.00" r="2.3" fill="#000"/>
<circle cx="48.35" cy="272.00" r="2.3" fill="#000"/>
<circle cx="61.60" cy="267.00" r="2.3" fill="#000"/>
<circle cx="74.85" cy="257.60" r="2.3" fill="#000"/>
<circle cx="88.10" cy="239.30" r="2.3" fill="#000"/>
<circle cx="101.35" cy="228.30" r="2.3" fill="#000"/>
<circle cx="114.60" cy="226.60" r="2.3" fill="#000"/>
<circle cx="127.85" cy="222.80" r="2.3" fill="#000"/>
<circle cx="141.10" cy="218.70" r="2.3" fill="#000"/>
<circle cx="154.35" cy="229.70" r="2.3" fill="#000"/>
<circle cx="167.60" cy="230.20" r="2.3" fill="#000"/>
<line x1="167.60" y1="264.00" x2="167.60" y2="271.00" stroke="#8a8a8a" stroke-width="1.5"/>
<line x1="165.20" y1="264.00" x2="170.00" y2="264.00" stroke="#8a8a8a" stroke-width="1.5"/>
<line x1="165.20" y1="271.00" x2="170.00" y2="271.00" stroke="#8a8a8a" stroke-width="1.5"/>
<polyline points="35.10,272.00 48.35,272.00 61.60,272.00 74.85,271.50 88.10,271.30 114.60,271.30 141.10,270.80 167.60,267.40" fill="none" stroke="#8a8a8a" stroke-width="1.25" stroke-linejoin="round"/>
<rect x="32.80" y="269.70" width="4.6" height="4.6" fill="#fff" stroke="#8a8a8a" stroke-width="1.2"/>
<rect x="46.05" y="269.70" width="4.6" height="4.6" fill="#fff" stroke="#8a8a8a" stroke-width="1.2"/>
<rect x="59.30" y="269.70" width="4.6" height="4.6" fill="#fff" stroke="#8a8a8a" stroke-width="1.2"/>
<rect x="72.55" y="269.20" width="4.6" height="4.6" fill="#fff" stroke="#8a8a8a" stroke-width="1.2"/>
<rect x="85.80" y="269.00" width="4.6" height="4.6" fill="#fff" stroke="#8a8a8a" stroke-width="1.2"/>
<rect x="112.30" y="269.00" width="4.6" height="4.6" fill="#fff" stroke="#8a8a8a" stroke-width="1.2"/>
<rect x="138.80" y="268.50" width="4.6" height="4.6" fill="#fff" stroke="#8a8a8a" stroke-width="1.2"/>
<rect x="165.30" y="265.10" width="4.6" height="4.6" fill="#fff" stroke="#8a8a8a" stroke-width="1.2"/>
<line x1="74.85" y1="260.00" x2="74.85" y2="266.00" stroke="#8a8a8a" stroke-width="1.5"/>
<line x1="72.45" y1="260.00" x2="77.25" y2="260.00" stroke="#8a8a8a" stroke-width="1.5"/>
<line x1="72.45" y1="266.00" x2="77.25" y2="266.00" stroke="#8a8a8a" stroke-width="1.5"/>
<line x1="88.10" y1="238.40" x2="88.10" y2="260.30" stroke="#8a8a8a" stroke-width="1.5"/>
<line x1="85.70" y1="238.40" x2="90.50" y2="238.40" stroke="#8a8a8a" stroke-width="1.5"/>
<line x1="85.70" y1="260.30" x2="90.50" y2="260.30" stroke="#8a8a8a" stroke-width="1.5"/>
<line x1="101.35" y1="238.40" x2="101.35" y2="260.30" stroke="#8a8a8a" stroke-width="1.5"/>
<line x1="98.95" y1="238.40" x2="103.75" y2="238.40" stroke="#8a8a8a" stroke-width="1.5"/>
<line x1="98.95" y1="260.30" x2="103.75" y2="260.30" stroke="#8a8a8a" stroke-width="1.5"/>
<line x1="114.60" y1="245.40" x2="114.60" y2="258.50" stroke="#8a8a8a" stroke-width="1.5"/>
<line x1="112.20" y1="245.40" x2="117.00" y2="245.40" stroke="#8a8a8a" stroke-width="1.5"/>
<line x1="112.20" y1="258.50" x2="117.00" y2="258.50" stroke="#8a8a8a" stroke-width="1.5"/>
<line x1="127.85" y1="252.50" x2="127.85" y2="260.00" stroke="#8a8a8a" stroke-width="1.5"/>
<line x1="125.45" y1="252.50" x2="130.25" y2="252.50" stroke="#8a8a8a" stroke-width="1.5"/>
<line x1="125.45" y1="260.00" x2="130.25" y2="260.00" stroke="#8a8a8a" stroke-width="1.5"/>
<line x1="141.10" y1="254.00" x2="141.10" y2="259.50" stroke="#8a8a8a" stroke-width="1.5"/>
<line x1="138.70" y1="254.00" x2="143.50" y2="254.00" stroke="#8a8a8a" stroke-width="1.5"/>
<line x1="138.70" y1="259.50" x2="143.50" y2="259.50" stroke="#8a8a8a" stroke-width="1.5"/>
<line x1="154.35" y1="257.90" x2="154.35" y2="267.30" stroke="#8a8a8a" stroke-width="1.5"/>
<line x1="151.95" y1="257.90" x2="156.75" y2="257.90" stroke="#8a8a8a" stroke-width="1.5"/>
<line x1="151.95" y1="267.30" x2="156.75" y2="267.30" stroke="#8a8a8a" stroke-width="1.5"/>
<line x1="167.60" y1="258.00" x2="167.60" y2="263.00" stroke="#8a8a8a" stroke-width="1.5"/>
<line x1="165.20" y1="258.00" x2="170.00" y2="258.00" stroke="#8a8a8a" stroke-width="1.5"/>
<line x1="165.20" y1="263.00" x2="170.00" y2="263.00" stroke="#8a8a8a" stroke-width="1.5"/>
<polyline points="35.10,272.00 48.35,272.00 61.60,270.00 74.85,262.90 88.10,250.10 101.35,250.00 114.60,252.90 127.85,256.20 141.10,256.70 154.35,262.70 167.60,260.40" fill="none" stroke="#8a8a8a" stroke-width="1.25" stroke-linejoin="round"/>
<polygon points="35.10,269.40 37.70,273.80 32.50,273.80" fill="#8a8a8a"/>
<polygon points="48.35,269.40 50.95,273.80 45.75,273.80" fill="#8a8a8a"/>
<polygon points="61.60,267.40 64.20,271.80 59.00,271.80" fill="#8a8a8a"/>
<polygon points="74.85,260.30 77.45,264.70 72.25,264.70" fill="#8a8a8a"/>
<polygon points="88.10,247.50 90.70,251.90 85.50,251.90" fill="#8a8a8a"/>
<polygon points="101.35,247.40 103.95,251.80 98.75,251.80" fill="#8a8a8a"/>
<polygon points="114.60,250.30 117.20,254.70 112.00,254.70" fill="#8a8a8a"/>
<polygon points="127.85,253.60 130.45,258.00 125.25,258.00" fill="#8a8a8a"/>
<polygon points="141.10,254.10 143.70,258.50 138.50,258.50" fill="#8a8a8a"/>
<polygon points="154.35,260.10 156.95,264.50 151.75,264.50" fill="#8a8a8a"/>
<polygon points="167.60,257.80 170.20,262.20 165.00,262.20" fill="#8a8a8a"/>
<line x1="29.00" y1="272.00" x2="32.50" y2="272.00" stroke="#000" stroke-width="1.1"/>
<text x="28.50" y="274.20" font-size="6.4" font-weight="bold" text-anchor="end" fill="#000" stroke="#000" stroke-width="0.25">0</text>
<line x1="29.00" y1="253.62" x2="32.50" y2="253.62" stroke="#000" stroke-width="1.1"/>
<text x="28.50" y="255.82" font-size="6.4" font-weight="bold" text-anchor="end" fill="#000" stroke="#000" stroke-width="0.25">10</text>
<line x1="29.00" y1="235.24" x2="32.50" y2="235.24" stroke="#000" stroke-width="1.1"/>
<text x="28.50" y="237.44" font-size="6.4" font-weight="bold" text-anchor="end" fill="#000" stroke="#000" stroke-width="0.25">20</text>
<line x1="29.00" y1="216.86" x2="32.50" y2="216.86" stroke="#000" stroke-width="1.1"/>
<text x="28.50" y="219.06" font-size="6.4" font-weight="bold" text-anchor="end" fill="#000" stroke="#000" stroke-width="0.25">30</text>
<line x1="29.00" y1="198.48" x2="32.50" y2="198.48" stroke="#000" stroke-width="1.1"/>
<text x="28.50" y="200.68" font-size="6.4" font-weight="bold" text-anchor="end" fill="#000" stroke="#000" stroke-width="0.25">40</text>
<line x1="29.00" y1="180.10" x2="32.50" y2="180.10" stroke="#000" stroke-width="1.1"/>
<text x="28.50" y="182.30" font-size="6.4" font-weight="bold" text-anchor="end" fill="#000" stroke="#000" stroke-width="0.25">50</text>
<line x1="35.10" y1="272.00" x2="35.10" y2="275.00" stroke="#000" stroke-width="1.1"/>
<text x="35.10" y="282.20" font-size="6.5" font-weight="bold" text-anchor="middle" fill="#000" stroke="#000" stroke-width="0.25">1</text>
<line x1="48.35" y1="272.00" x2="48.35" y2="275.00" stroke="#000" stroke-width="1.1"/>
<text x="48.35" y="282.20" font-size="6.5" font-weight="bold" text-anchor="middle" fill="#000" stroke="#000" stroke-width="0.25">2</text>
<line x1="61.60" y1="272.00" x2="61.60" y2="275.00" stroke="#000" stroke-width="1.1"/>
<text x="61.60" y="282.20" font-size="6.5" font-weight="bold" text-anchor="middle" fill="#000" stroke="#000" stroke-width="0.25">3</text>
<line x1="74.85" y1="272.00" x2="74.85" y2="275.00" stroke="#000" stroke-width="1.1"/>
<text x="74.85" y="282.20" font-size="6.5" font-weight="bold" text-anchor="middle" fill="#000" stroke="#000" stroke-width="0.25">4</text>
<line x1="88.10" y1="272.00" x2="88.10" y2="275.00" stroke="#000" stroke-width="1.1"/>
<text x="88.10" y="282.20" font-size="6.5" font-weight="bold" text-anchor="middle" fill="#000" stroke="#000" stroke-width="0.25">5</text>
<line x1="101.35" y1="272.00" x2="101.35" y2="275.00" stroke="#000" stroke-width="1.1"/>
<text x="101.35" y="282.20" font-size="6.5" font-weight="bold" text-anchor="middle" fill="#000" stroke="#000" stroke-width="0.25">6</text>
<line x1="114.60" y1="272.00" x2="114.60" y2="275.00" stroke="#000" stroke-width="1.1"/>
<text x="114.60" y="282.20" font-size="6.5" font-weight="bold" text-anchor="middle" fill="#000" stroke="#000" stroke-width="0.25">7</text>
<line x1="127.85" y1="272.00" x2="127.85" y2="275.00" stroke="#000" stroke-width="1.1"/>
<text x="127.85" y="282.20" font-size="6.5" font-weight="bold" text-anchor="middle" fill="#000" stroke="#000" stroke-width="0.25">8</text>
<line x1="141.10" y1="272.00" x2="141.10" y2="275.00" stroke="#000" stroke-width="1.1"/>
<text x="141.10" y="282.20" font-size="6.5" font-weight="bold" text-anchor="middle" fill="#000" stroke="#000" stroke-width="0.25">9</text>
<line x1="154.35" y1="272.00" x2="154.35" y2="275.00" stroke="#000" stroke-width="1.1"/>
<text x="154.35" y="282.20" font-size="6.5" font-weight="bold" text-anchor="middle" fill="#000" stroke="#000" stroke-width="0.25">10</text>
<line x1="167.60" y1="272.00" x2="167.60" y2="275.00" stroke="#000" stroke-width="1.1"/>
<text x="167.60" y="282.20" font-size="6.5" font-weight="bold" text-anchor="middle" fill="#000" stroke="#000" stroke-width="0.25">11</text>
<text x="101.35" y="291.50" font-size="7.5" font-weight="bold" text-anchor="middle" fill="#000" stroke="#000" stroke-width="0.15">Days</text>
<text x="74.85" y="239.10" font-size="8.6" font-weight="bold" text-anchor="middle" fill="#000" stroke="#000" stroke-width="0.35">b</text>
<text x="88.10" y="212.30" font-size="8.6" font-weight="bold" text-anchor="middle" fill="#000" stroke="#000" stroke-width="0.35">b</text>
<text x="141.10" y="181.30" font-size="8.6" font-weight="bold" text-anchor="middle" fill="#000" stroke="#000" stroke-width="0.35">c</text>
<text x="154.35" y="203.50" font-size="8.6" font-weight="bold" text-anchor="middle" fill="#000" stroke="#000" stroke-width="0.35">c</text>
<text x="167.60" y="206.20" font-size="8.6" font-weight="bold" text-anchor="middle" fill="#000" stroke="#000" stroke-width="0.35">c</text>
<text x="100.90" y="169.10" font-size="8.8" font-weight="bold" text-anchor="middle" fill="#000" stroke="#000" stroke-width="0.15">Schistocytes</text>
<text x="1.50" y="168.10" font-size="13.2" font-weight="bold" text-anchor="start" fill="#000" stroke="#000" stroke-width="0.3">C</text>
<text transform="translate(9.40,225.80) rotate(-90)" font-size="7.8" font-weight="bold" text-anchor="middle" fill="#000" stroke="#000" stroke-width="0.15">% fragments</text>
<line x1="185.30" y1="179.60" x2="195.90" y2="179.60" stroke="#000" stroke-width="1.3"/>
<circle cx="190.10" cy="179.60" r="2.3" fill="#000"/>
<text x="201.60" y="182.20" font-size="7.3" font-weight="normal" text-anchor="start" fill="#111" stroke="#111" stroke-width="0.15">Controls</text>
<line x1="185.30" y1="190.20" x2="195.90" y2="190.20" stroke="#8a8a8a" stroke-width="1.0"/>
<rect x="187.80" y="187.90" width="4.6" height="4.6" fill="#fff" stroke="#8a8a8a" stroke-width="1.2"/>
<text x="201.60" y="192.80" font-size="7.3" font-weight="normal" text-anchor="start" fill="#111" stroke="#111" stroke-width="0.15">Preventive</text>
<line x1="185.30" y1="200.80" x2="195.90" y2="200.80" stroke="#8a8a8a" stroke-width="1.0"/>
<polygon points="190.10,198.20 192.70,202.60 187.50,202.60" fill="#8a8a8a"/>
<text x="201.60" y="203.40" font-size="7.3" font-weight="normal" text-anchor="start" fill="#111" stroke="#111" stroke-width="0.15">Therapeutic</text>
<line x1="311.30" y1="275.00" x2="311.30" y2="182.20" stroke="#000" stroke-width="1.2"/>
<line x1="310.70" y1="275.00" x2="450.00" y2="275.00" stroke="#000" stroke-width="1.2"/>
<line x1="314.00" y1="233.40" x2="314.00" y2="255.00" stroke="#000" stroke-width="1.6"/>
<line x1="311.60" y1="233.40" x2="316.40" y2="233.40" stroke="#000" stroke-width="1.6"/>
<line x1="311.60" y1="255.00" x2="316.40" y2="255.00" stroke="#000" stroke-width="1.6"/>
<line x1="327.24" y1="233.40" x2="327.24" y2="252.20" stroke="#000" stroke-width="1.6"/>
<line x1="324.84" y1="233.40" x2="329.64" y2="233.40" stroke="#000" stroke-width="1.6"/>
<line x1="324.84" y1="252.20" x2="329.64" y2="252.20" stroke="#000" stroke-width="1.6"/>
<line x1="340.48" y1="226.50" x2="340.48" y2="237.50" stroke="#000" stroke-width="1.6"/>
<line x1="338.08" y1="226.50" x2="342.88" y2="226.50" stroke="#000" stroke-width="1.6"/>
<line x1="338.08" y1="237.50" x2="342.88" y2="237.50" stroke="#000" stroke-width="1.6"/>
<line x1="353.72" y1="191.30" x2="353.72" y2="227.50" stroke="#000" stroke-width="1.6"/>
<line x1="351.32" y1="191.30" x2="356.12" y2="191.30" stroke="#000" stroke-width="1.6"/>
<line x1="351.32" y1="227.50" x2="356.12" y2="227.50" stroke="#000" stroke-width="1.6"/>
<line x1="366.96" y1="198.00" x2="366.96" y2="226.60" stroke="#000" stroke-width="1.6"/>
<line x1="364.56" y1="198.00" x2="369.36" y2="198.00" stroke="#000" stroke-width="1.6"/>
<line x1="364.56" y1="226.60" x2="369.36" y2="226.60" stroke="#000" stroke-width="1.6"/>
<line x1="380.20" y1="202.70" x2="380.20" y2="225.30" stroke="#000" stroke-width="1.6"/>
<line x1="377.80" y1="202.70" x2="382.60" y2="202.70" stroke="#000" stroke-width="1.6"/>
<line x1="377.80" y1="225.30" x2="382.60" y2="225.30" stroke="#000" stroke-width="1.6"/>
<line x1="393.44" y1="214.90" x2="393.44" y2="228.70" stroke="#000" stroke-width="1.6"/>
<line x1="391.04" y1="214.90" x2="395.84" y2="214.90" stroke="#000" stroke-width="1.6"/>
<line x1="391.04" y1="228.70" x2="395.84" y2="228.70" stroke="#000" stroke-width="1.6"/>
<line x1="406.68" y1="213.80" x2="406.68" y2="230.90" stroke="#000" stroke-width="1.6"/>
<line x1="404.28" y1="213.80" x2="409.08" y2="213.80" stroke="#000" stroke-width="1.6"/>
<line x1="404.28" y1="230.90" x2="409.08" y2="230.90" stroke="#000" stroke-width="1.6"/>
<line x1="419.92" y1="218.90" x2="419.92" y2="234.50" stroke="#000" stroke-width="1.6"/>
<line x1="417.52" y1="218.90" x2="422.32" y2="218.90" stroke="#000" stroke-width="1.6"/>
<line x1="417.52" y1="234.50" x2="422.32" y2="234.50" stroke="#000" stroke-width="1.6"/>
<line x1="433.16" y1="224.30" x2="433.16" y2="234.50" stroke="#000" stroke-width="1.6"/>
<line x1="430.76" y1="224.30" x2="435.56" y2="224.30" stroke="#000" stroke-width="1.6"/>
<line x1="430.76" y1="234.50" x2="435.56" y2="234.50" stroke="#000" stroke-width="1.6"/>
<line x1="446.40" y1="225.70" x2="446.40" y2="236.30" stroke="#000" stroke-width="1.6"/>
<line x1="444.00" y1="225.70" x2="448.80" y2="225.70" stroke="#000" stroke-width="1.6"/>
<line x1="444.00" y1="236.30" x2="448.80" y2="236.30" stroke="#000" stroke-width="1.6"/>
<polyline points="314.00,244.40 327.24,242.10 340.48,231.90 353.72,209.40 366.96,212.00 380.20,214.00 393.44,221.80 406.68,221.80 419.92,226.70 433.16,229.40 446.40,231.00" fill="none" stroke="#000" stroke-width="1.5" stroke-linejoin="round"/>
<circle cx="314.00" cy="244.40" r="2.3" fill="#000"/>
<circle cx="327.24" cy="242.10" r="2.3" fill="#000"/>
<circle cx="340.48" cy="231.90" r="2.3" fill="#000"/>
<circle cx="353.72" cy="209.40" r="2.3" fill="#000"/>
<circle cx="366.96" cy="212.00" r="2.3" fill="#000"/>
<circle cx="380.20" cy="214.00" r="2.3" fill="#000"/>
<circle cx="393.44" cy="221.80" r="2.3" fill="#000"/>
<circle cx="406.68" cy="221.80" r="2.3" fill="#000"/>
<circle cx="419.92" cy="226.70" r="2.3" fill="#000"/>
<circle cx="433.16" cy="229.40" r="2.3" fill="#000"/>
<circle cx="446.40" cy="231.00" r="2.3" fill="#000"/>
<line x1="314.00" y1="229.60" x2="314.00" y2="249.20" stroke="#8a8a8a" stroke-width="1.5"/>
<line x1="311.60" y1="229.60" x2="316.40" y2="229.60" stroke="#8a8a8a" stroke-width="1.5"/>
<line x1="311.60" y1="249.20" x2="316.40" y2="249.20" stroke="#8a8a8a" stroke-width="1.5"/>
<line x1="327.24" y1="219.40" x2="327.24" y2="234.40" stroke="#8a8a8a" stroke-width="1.5"/>
<line x1="324.84" y1="219.40" x2="329.64" y2="219.40" stroke="#8a8a8a" stroke-width="1.5"/>
<line x1="324.84" y1="234.40" x2="329.64" y2="234.40" stroke="#8a8a8a" stroke-width="1.5"/>
<line x1="340.48" y1="219.80" x2="340.48" y2="231.80" stroke="#8a8a8a" stroke-width="1.5"/>
<line x1="338.08" y1="219.80" x2="342.88" y2="219.80" stroke="#8a8a8a" stroke-width="1.5"/>
<line x1="338.08" y1="231.80" x2="342.88" y2="231.80" stroke="#8a8a8a" stroke-width="1.5"/>
<line x1="353.72" y1="216.00" x2="353.72" y2="241.70" stroke="#8a8a8a" stroke-width="1.5"/>
<line x1="351.32" y1="216.00" x2="356.12" y2="216.00" stroke="#8a8a8a" stroke-width="1.5"/>
<line x1="351.32" y1="241.70" x2="356.12" y2="241.70" stroke="#8a8a8a" stroke-width="1.5"/>
<line x1="366.96" y1="221.00" x2="366.96" y2="247.00" stroke="#8a8a8a" stroke-width="1.5"/>
<line x1="364.56" y1="221.00" x2="369.36" y2="221.00" stroke="#8a8a8a" stroke-width="1.5"/>
<line x1="364.56" y1="247.00" x2="369.36" y2="247.00" stroke="#8a8a8a" stroke-width="1.5"/>
<line x1="393.44" y1="225.00" x2="393.44" y2="247.50" stroke="#8a8a8a" stroke-width="1.5"/>
<line x1="391.04" y1="225.00" x2="395.84" y2="225.00" stroke="#8a8a8a" stroke-width="1.5"/>
<line x1="391.04" y1="247.50" x2="395.84" y2="247.50" stroke="#8a8a8a" stroke-width="1.5"/>
<line x1="419.92" y1="232.40" x2="419.92" y2="260.00" stroke="#8a8a8a" stroke-width="1.5"/>
<line x1="417.52" y1="232.40" x2="422.32" y2="232.40" stroke="#8a8a8a" stroke-width="1.5"/>
<line x1="417.52" y1="260.00" x2="422.32" y2="260.00" stroke="#8a8a8a" stroke-width="1.5"/>
<line x1="446.40" y1="233.20" x2="446.40" y2="259.20" stroke="#8a8a8a" stroke-width="1.5"/>
<line x1="444.00" y1="233.20" x2="448.80" y2="233.20" stroke="#8a8a8a" stroke-width="1.5"/>
<line x1="444.00" y1="259.20" x2="448.80" y2="259.20" stroke="#8a8a8a" stroke-width="1.5"/>
<polyline points="314.00,239.40 327.24,226.90 340.48,225.80 353.72,228.90 366.96,234.10 393.44,236.20 419.92,246.20 446.40,246.20" fill="none" stroke="#8a8a8a" stroke-width="1.25" stroke-linejoin="round"/>
<rect x="311.70" y="237.10" width="4.6" height="4.6" fill="#fff" stroke="#8a8a8a" stroke-width="1.2"/>
<rect x="324.94" y="224.60" width="4.6" height="4.6" fill="#fff" stroke="#8a8a8a" stroke-width="1.2"/>
<rect x="338.18" y="223.50" width="4.6" height="4.6" fill="#fff" stroke="#8a8a8a" stroke-width="1.2"/>
<rect x="351.42" y="226.60" width="4.6" height="4.6" fill="#fff" stroke="#8a8a8a" stroke-width="1.2"/>
<rect x="364.66" y="231.80" width="4.6" height="4.6" fill="#fff" stroke="#8a8a8a" stroke-width="1.2"/>
<rect x="391.14" y="233.90" width="4.6" height="4.6" fill="#fff" stroke="#8a8a8a" stroke-width="1.2"/>
<rect x="417.62" y="243.90" width="4.6" height="4.6" fill="#fff" stroke="#8a8a8a" stroke-width="1.2"/>
<rect x="444.10" y="243.90" width="4.6" height="4.6" fill="#fff" stroke="#8a8a8a" stroke-width="1.2"/>
<line x1="314.00" y1="235.00" x2="314.00" y2="255.00" stroke="#8a8a8a" stroke-width="1.5"/>
<line x1="311.60" y1="235.00" x2="316.40" y2="235.00" stroke="#8a8a8a" stroke-width="1.5"/>
<line x1="311.60" y1="255.00" x2="316.40" y2="255.00" stroke="#8a8a8a" stroke-width="1.5"/>
<line x1="327.24" y1="233.00" x2="327.24" y2="251.80" stroke="#8a8a8a" stroke-width="1.5"/>
<line x1="324.84" y1="233.00" x2="329.64" y2="233.00" stroke="#8a8a8a" stroke-width="1.5"/>
<line x1="324.84" y1="251.80" x2="329.64" y2="251.80" stroke="#8a8a8a" stroke-width="1.5"/>
<line x1="340.48" y1="226.00" x2="340.48" y2="251.50" stroke="#8a8a8a" stroke-width="1.5"/>
<line x1="338.08" y1="226.00" x2="342.88" y2="226.00" stroke="#8a8a8a" stroke-width="1.5"/>
<line x1="338.08" y1="251.50" x2="342.88" y2="251.50" stroke="#8a8a8a" stroke-width="1.5"/>
<line x1="353.72" y1="207.00" x2="353.72" y2="241.70" stroke="#8a8a8a" stroke-width="1.5"/>
<line x1="351.32" y1="207.00" x2="356.12" y2="207.00" stroke="#8a8a8a" stroke-width="1.5"/>
<line x1="351.32" y1="241.70" x2="356.12" y2="241.70" stroke="#8a8a8a" stroke-width="1.5"/>
<line x1="366.96" y1="197.50" x2="366.96" y2="225.50" stroke="#8a8a8a" stroke-width="1.5"/>
<line x1="364.56" y1="197.50" x2="369.36" y2="197.50" stroke="#8a8a8a" stroke-width="1.5"/>
<line x1="364.56" y1="225.50" x2="369.36" y2="225.50" stroke="#8a8a8a" stroke-width="1.5"/>
<line x1="380.20" y1="228.20" x2="380.20" y2="238.60" stroke="#8a8a8a" stroke-width="1.5"/>
<line x1="377.80" y1="228.20" x2="382.60" y2="228.20" stroke="#8a8a8a" stroke-width="1.5"/>
<line x1="377.80" y1="238.60" x2="382.60" y2="238.60" stroke="#8a8a8a" stroke-width="1.5"/>
<line x1="393.44" y1="226.00" x2="393.44" y2="247.00" stroke="#8a8a8a" stroke-width="1.5"/>
<line x1="391.04" y1="226.00" x2="395.84" y2="226.00" stroke="#8a8a8a" stroke-width="1.5"/>
<line x1="391.04" y1="247.00" x2="395.84" y2="247.00" stroke="#8a8a8a" stroke-width="1.5"/>
<line x1="406.68" y1="232.60" x2="406.68" y2="243.80" stroke="#8a8a8a" stroke-width="1.5"/>
<line x1="404.28" y1="232.60" x2="409.08" y2="232.60" stroke="#8a8a8a" stroke-width="1.5"/>
<line x1="404.28" y1="243.80" x2="409.08" y2="243.80" stroke="#8a8a8a" stroke-width="1.5"/>
<line x1="419.92" y1="235.00" x2="419.92" y2="257.00" stroke="#8a8a8a" stroke-width="1.5"/>
<line x1="417.52" y1="235.00" x2="422.32" y2="235.00" stroke="#8a8a8a" stroke-width="1.5"/>
<line x1="417.52" y1="257.00" x2="422.32" y2="257.00" stroke="#8a8a8a" stroke-width="1.5"/>
<line x1="433.16" y1="236.00" x2="433.16" y2="255.90" stroke="#8a8a8a" stroke-width="1.5"/>
<line x1="430.76" y1="236.00" x2="435.56" y2="236.00" stroke="#8a8a8a" stroke-width="1.5"/>
<line x1="430.76" y1="255.90" x2="435.56" y2="255.90" stroke="#8a8a8a" stroke-width="1.5"/>
<line x1="446.40" y1="236.00" x2="446.40" y2="257.00" stroke="#8a8a8a" stroke-width="1.5"/>
<line x1="444.00" y1="236.00" x2="448.80" y2="236.00" stroke="#8a8a8a" stroke-width="1.5"/>
<line x1="444.00" y1="257.00" x2="448.80" y2="257.00" stroke="#8a8a8a" stroke-width="1.5"/>
<polyline points="314.00,245.00 327.24,242.40 340.48,238.70 353.72,224.30 366.96,211.50 380.20,233.40 393.44,236.50 406.68,238.20 419.92,246.00 433.16,245.90 446.40,246.50" fill="none" stroke="#8a8a8a" stroke-width="1.25" stroke-linejoin="round"/>
<polygon points="314.00,242.40 316.60,246.80 311.40,246.80" fill="#8a8a8a"/>
<polygon points="327.24,239.80 329.84,244.20 324.64,244.20" fill="#8a8a8a"/>
<polygon points="340.48,236.10 343.08,240.50 337.88,240.50" fill="#8a8a8a"/>
<polygon points="353.72,221.70 356.32,226.10 351.12,226.10" fill="#8a8a8a"/>
<polygon points="366.96,208.90 369.56,213.30 364.36,213.30" fill="#8a8a8a"/>
<polygon points="380.20,230.80 382.80,235.20 377.60,235.20" fill="#8a8a8a"/>
<polygon points="393.44,233.90 396.04,238.30 390.84,238.30" fill="#8a8a8a"/>
<polygon points="406.68,235.60 409.28,240.00 404.08,240.00" fill="#8a8a8a"/>
<polygon points="419.92,243.40 422.52,247.80 417.32,247.80" fill="#8a8a8a"/>
<polygon points="433.16,243.30 435.76,247.70 430.56,247.70" fill="#8a8a8a"/>
<polygon points="446.40,243.90 449.00,248.30 443.80,248.30" fill="#8a8a8a"/>
<line x1="307.80" y1="275.00" x2="311.30" y2="275.00" stroke="#000" stroke-width="1.1"/>
<text x="307.30" y="277.20" font-size="6.4" font-weight="bold" text-anchor="end" fill="#000" stroke="#000" stroke-width="0.25">0</text>
<line x1="307.80" y1="244.23" x2="311.30" y2="244.23" stroke="#000" stroke-width="1.1"/>
<text x="307.30" y="246.43" font-size="6.4" font-weight="bold" text-anchor="end" fill="#000" stroke="#000" stroke-width="0.25">500</text>
<line x1="307.80" y1="213.46" x2="311.30" y2="213.46" stroke="#000" stroke-width="1.1"/>
<text x="307.30" y="215.66" font-size="6.4" font-weight="bold" text-anchor="end" fill="#000" stroke="#000" stroke-width="0.25">1000</text>
<line x1="307.80" y1="182.69" x2="311.30" y2="182.69" stroke="#000" stroke-width="1.1"/>
<text x="307.30" y="184.89" font-size="6.4" font-weight="bold" text-anchor="end" fill="#000" stroke="#000" stroke-width="0.25">1500</text>
<line x1="314.00" y1="275.00" x2="314.00" y2="278.00" stroke="#000" stroke-width="1.1"/>
<text x="314.00" y="284.90" font-size="6.5" font-weight="bold" text-anchor="middle" fill="#000" stroke="#000" stroke-width="0.25">1</text>
<line x1="327.24" y1="275.00" x2="327.24" y2="278.00" stroke="#000" stroke-width="1.1"/>
<text x="327.24" y="284.90" font-size="6.5" font-weight="bold" text-anchor="middle" fill="#000" stroke="#000" stroke-width="0.25">2</text>
<line x1="340.48" y1="275.00" x2="340.48" y2="278.00" stroke="#000" stroke-width="1.1"/>
<text x="340.48" y="284.90" font-size="6.5" font-weight="bold" text-anchor="middle" fill="#000" stroke="#000" stroke-width="0.25">3</text>
<line x1="353.72" y1="275.00" x2="353.72" y2="278.00" stroke="#000" stroke-width="1.1"/>
<text x="353.72" y="284.90" font-size="6.5" font-weight="bold" text-anchor="middle" fill="#000" stroke="#000" stroke-width="0.25">4</text>
<line x1="366.96" y1="275.00" x2="366.96" y2="278.00" stroke="#000" stroke-width="1.1"/>
<text x="366.96" y="284.90" font-size="6.5" font-weight="bold" text-anchor="middle" fill="#000" stroke="#000" stroke-width="0.25">5</text>
<line x1="380.20" y1="275.00" x2="380.20" y2="278.00" stroke="#000" stroke-width="1.1"/>
<text x="380.20" y="284.90" font-size="6.5" font-weight="bold" text-anchor="middle" fill="#000" stroke="#000" stroke-width="0.25">6</text>
<line x1="393.44" y1="275.00" x2="393.44" y2="278.00" stroke="#000" stroke-width="1.1"/>
<text x="393.44" y="284.90" font-size="6.5" font-weight="bold" text-anchor="middle" fill="#000" stroke="#000" stroke-width="0.25">7</text>
<line x1="406.68" y1="275.00" x2="406.68" y2="278.00" stroke="#000" stroke-width="1.1"/>
<text x="406.68" y="284.90" font-size="6.5" font-weight="bold" text-anchor="middle" fill="#000" stroke="#000" stroke-width="0.25">8</text>
<line x1="419.92" y1="275.00" x2="419.92" y2="278.00" stroke="#000" stroke-width="1.1"/>
<text x="419.92" y="284.90" font-size="6.5" font-weight="bold" text-anchor="middle" fill="#000" stroke="#000" stroke-width="0.25">9</text>
<line x1="433.16" y1="275.00" x2="433.16" y2="278.00" stroke="#000" stroke-width="1.1"/>
<text x="433.16" y="284.90" font-size="6.5" font-weight="bold" text-anchor="middle" fill="#000" stroke="#000" stroke-width="0.25">10</text>
<line x1="446.40" y1="275.00" x2="446.40" y2="278.00" stroke="#000" stroke-width="1.1"/>
<text x="446.40" y="284.90" font-size="6.5" font-weight="bold" text-anchor="middle" fill="#000" stroke="#000" stroke-width="0.25">11</text>
<text x="380.20" y="294.30" font-size="7.5" font-weight="bold" text-anchor="middle" fill="#000" stroke="#000" stroke-width="0.15">Days</text>
<text x="366.96" y="253.70" font-size="8.6" font-weight="bold" text-anchor="middle" fill="#000" stroke="#000" stroke-width="0.35">a</text>
<text x="419.92" y="214.40" font-size="8.6" font-weight="bold" text-anchor="middle" fill="#000" stroke="#000" stroke-width="0.35">c</text>
<text x="433.16" y="220.50" font-size="8.6" font-weight="bold" text-anchor="middle" fill="#000" stroke="#000" stroke-width="0.35">c</text>
<text x="446.40" y="221.80" font-size="8.6" font-weight="bold" text-anchor="middle" fill="#000" stroke="#000" stroke-width="0.35">c</text>
<text x="379.20" y="171.90" font-size="8.8" font-weight="bold" text-anchor="middle" fill="#000" stroke="#000" stroke-width="0.15">LDH</text>
<text x="274.50" y="167.40" font-size="13.2" font-weight="bold" text-anchor="start" fill="#000" stroke="#000" stroke-width="0.3">D</text>
<text transform="translate(288.00,228.70) rotate(-90)" font-size="7.8" font-weight="bold" text-anchor="middle" fill="#000" stroke="#000" stroke-width="0.15">U/L</text>
<line x1="463.90" y1="182.30" x2="474.50" y2="182.30" stroke="#000" stroke-width="1.3"/>
<circle cx="468.70" cy="182.30" r="2.3" fill="#000"/>
<text x="480.20" y="184.90" font-size="7.3" font-weight="normal" text-anchor="start" fill="#111" stroke="#111" stroke-width="0.15">Controls</text>
<line x1="463.90" y1="192.90" x2="474.50" y2="192.90" stroke="#8a8a8a" stroke-width="1.0"/>
<rect x="466.40" y="190.60" width="4.6" height="4.6" fill="#fff" stroke="#8a8a8a" stroke-width="1.2"/>
<text x="480.20" y="195.50" font-size="7.3" font-weight="normal" text-anchor="start" fill="#111" stroke="#111" stroke-width="0.15">Preventive</text>
<line x1="463.90" y1="203.50" x2="474.50" y2="203.50" stroke="#8a8a8a" stroke-width="1.0"/>
<polygon points="468.70,200.90 471.30,205.30 466.10,205.30" fill="#8a8a8a"/>
<text x="480.20" y="206.10" font-size="7.3" font-weight="normal" text-anchor="start" fill="#111" stroke="#111" stroke-width="0.15">Therapeutic</text>
</svg>
</body></html>
